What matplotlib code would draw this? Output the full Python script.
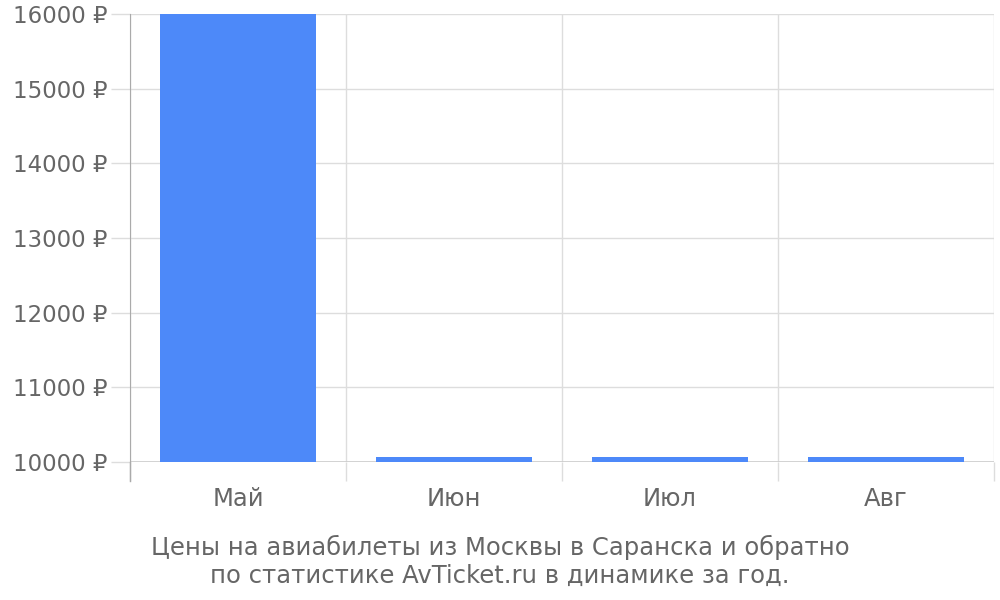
import matplotlib
matplotlib.use("Agg")
import matplotlib.pyplot as plt
import numpy as np

months = ["Май", "Июн", "Июл", "Авг"]
prices = [16000, 10070, 10070, 10070]
yticks = [10000, 11000, 12000, 13000, 14000, 15000, 16000]
base = 10000
title = "Цены на авиабилеты из Москвы в Саранска и обратно\nпо статистике AvTicket.ru в динамике за год."

txt = "#666666"
fig = plt.figure(figsize=(10, 6), dpi=100)
# axes box in pixels: left 130, right 994, top 14, bottom 462
ax = fig.add_axes([130 / 1000, 1 - 462 / 600, 864 / 1000, 448 / 600])

x = np.arange(len(months))
heights = [p - base for p in prices]
ax.bar(x, heights, bottom=base, width=0.72, color="#4d89f9", zorder=3)

ax.set_xlim(-0.5, len(months) - 0.5)
ax.set_ylim(base, 16000)
ax.set_yticks(yticks)
ax.set_yticklabels([f"{v} ₽" for v in yticks])
ax.grid(axis="y", color="#dddddd", lw=1, zorder=0)
ax.axhline(base, color="#cccccc", lw=1.2, zorder=2)

# category boundaries as major ticks + vertical grid
ax.set_xticks(np.arange(-0.5, len(months), 1.0))
ax.set_xticklabels([])
ax.set_xticks(x, minor=True)
ax.set_xticklabels(months, minor=True)
ax.grid(axis="x", which="major", color="#dddddd", lw=1, zorder=0)
ax.tick_params(axis="x", which="major", length=14, color="#dddddd", width=1)
ax.tick_params(axis="x", which="minor", length=0, labelsize=17.5, labelcolor=txt, pad=18)
ax.tick_params(axis="y", length=14, color="#dddddd", width=1, labelsize=16.5,
               labelcolor=txt, pad=2)

for s in ["top", "right", "bottom"]:
    ax.spines[s].set_visible(False)
ax.spines["left"].set_color("#aaaaaa")
ax.spines["left"].set_bounds(base, 16000)
ax.plot([-0.5, -0.5], [base, base - 19 / 448 * 6000], color="#aaaaaa", lw=1,
        clip_on=False, zorder=4)

fig.text(0.5, 1 - 561 / 600, title, ha="center", va="center", fontsize=17.5,
         color=txt, linespacing=1.2)

fig.savefig("out.png", dpi=100)
